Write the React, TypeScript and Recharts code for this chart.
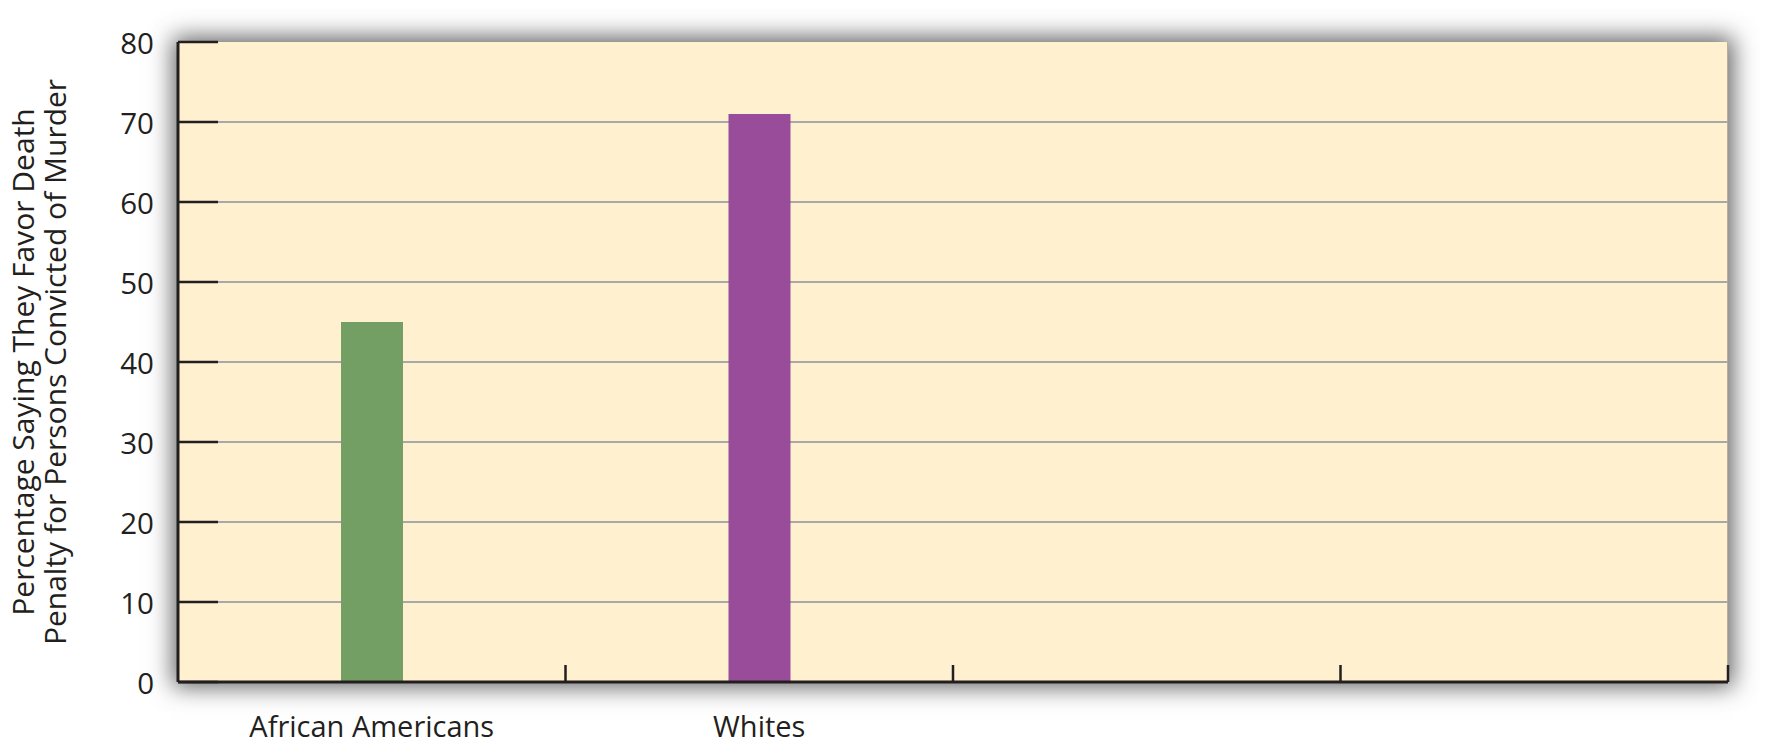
import React from "react";
import {
  BarChart,
  Bar,
  XAxis,
  YAxis,
  CartesianGrid,
  Cell,
} from "recharts";

const categories = ["African Americans", "Whites", "", ""];
const favorPercent = [45, 71, null, null];
const barColors = ["#739e64", "#984c9a"];
const yTicks = [0, 10, 20, 30, 40, 50, 60, 70, 80];
const gridValues = [10, 20, 30, 40, 50, 60, 70];
const yLabelLines = [
  "Percentage Saying They Favor Death",
  "Penalty for Persons Convicted of Murder",
];

const data = categories.map((name, i) => ({ name, value: favorPercent[i] }));

const W = 1768;
const H = 746;
const PLOT = { left: 178, top: 42, right: 1728, bottom: 682 };
const BAND = (PLOT.right - PLOT.left) / categories.length;
const FONT = "'Open Sans', sans-serif";
const INK = "#231f20";

function YTick(props: any) {
  const { x, y, payload } = props;
  return (
    <g>
      <line x1={x} y1={y} x2={x + 40} y2={y} stroke={INK} strokeWidth={2.5} />
      <text
        x={x - 24}
        y={y}
        textAnchor="end"
        dominantBaseline="central"
        fontFamily={FONT}
        fontSize={29.5}
        fill={INK}
      >
        {payload.value}
      </text>
    </g>
  );
}

function XTick(props: any) {
  const { x, y, payload } = props;
  const edge = x + BAND / 2;
  return (
    <g>
      <line x1={edge} y1={y} x2={edge} y2={y - 17} stroke={INK} strokeWidth={2.5} />
      <text
        x={x}
        y={y + 55}
        textAnchor="middle"
        fontFamily={FONT}
        fontSize={29}
        fill={INK}
      >
        {payload.value}
      </text>
    </g>
  );
}

function YLabel() {
  const cy = (PLOT.top + PLOT.bottom) / 2;
  const xs = [22, 54];
  return (
    <g>
      {yLabelLines.map((line, i) => (
        <text
          key={line}
          x={xs[i]}
          y={cy}
          transform={`rotate(-90, ${xs[i]}, ${cy})`}
          textAnchor="middle"
          dominantBaseline="central"
          fontFamily={FONT}
          fontSize={30}
          fill={INK}
        >
          {line}
        </text>
      ))}
    </g>
  );
}

export default function App() {
  return (
    <div style={{ margin: -8, width: W, height: H, position: "relative", overflow: "hidden", background: "#fff" }}>
      <div
        style={{
          position: "absolute",
          left: PLOT.left,
          top: PLOT.top,
          width: PLOT.right - PLOT.left,
          height: PLOT.bottom - PLOT.top,
          background: "#fff0d0",
          boxShadow: "0 0 22px 5px rgba(60,60,60,0.8)",
          borderRight: "1.5px solid #b8ae9e",
          boxSizing: "border-box",
        }}
      />
      <BarChart
        width={W}
        height={H}
        data={data}
        margin={{ top: PLOT.top, left: PLOT.left - 60, right: W - PLOT.right, bottom: H - PLOT.bottom - 30 }}
      >
        <CartesianGrid
          vertical={false}
          horizontalValues={gridValues}
          stroke="#a8a8a8"
          strokeWidth={2}
        />
        <XAxis
          dataKey="name"
          height={30}
          tickSize={0}
          tickMargin={0}
          tickLine={false}
          axisLine={{ stroke: INK, strokeWidth: 3 }}
          tick={<XTick />}
          interval={0}
        />
        <YAxis
          width={60}
          domain={[0, 80]}
          ticks={yTicks}
          tickSize={0}
          tickMargin={0}
          tickLine={false}
          axisLine={{ stroke: INK, strokeWidth: 3 }}
          tick={<YTick />}
          label={<YLabel />}
        />
        <Bar dataKey="value" barSize={62} isAnimationActive={false}>
          {data.map((d, i) => (
            <Cell key={`cell-${i}`} fill={barColors[i % barColors.length]} />
          ))}
        </Bar>
      </BarChart>
    </div>
  );
}
